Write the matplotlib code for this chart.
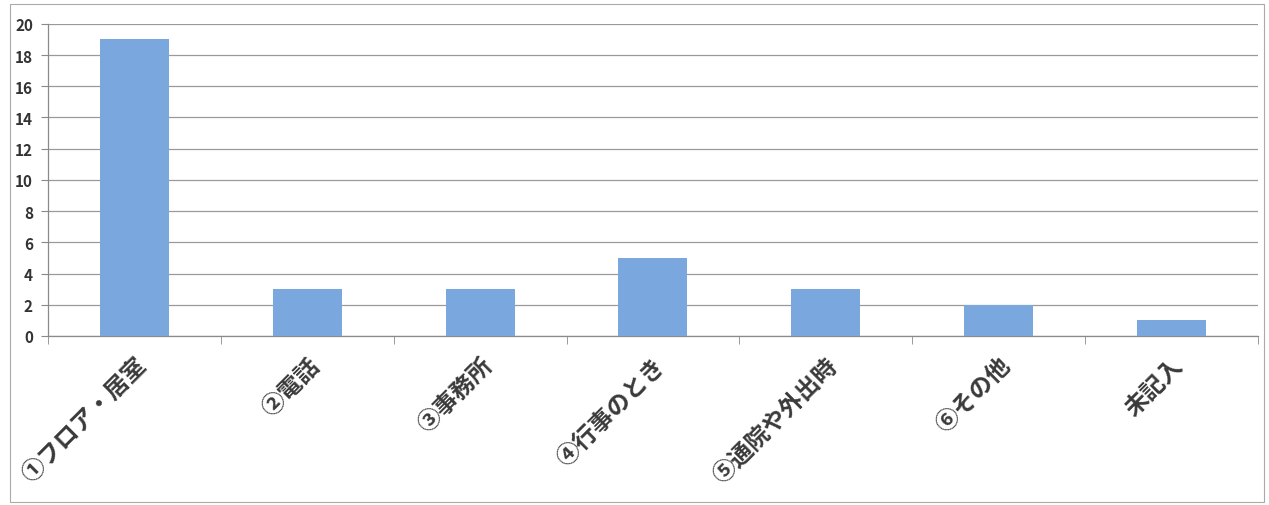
import matplotlib.pyplot as plt
from matplotlib.patches import Rectangle
import numpy as np

plt.rcParams['font.family'] = ['Noto Sans CJK JP', 'DejaVu Sans']

# data
categories = ['①フロア・居室', '②電話', '③事務所', '④行事のとき', '⑤通院や外出時', '⑥その他', '未記入']
counts = [19, 3, 3, 5, 3, 2, 1]
y_ticks = [0, 2, 4, 6, 8, 10, 12, 14, 16, 18, 20]

fig = plt.figure(figsize=(12.69, 5.06), dpi=100)
ax = fig.add_axes([0.038, 0.334, 0.953, 0.617])

x = np.arange(len(categories))
ax.bar(x, counts, width=0.4, color='#7aa7de', zorder=3)

ax.set_xlim(-0.5, len(categories) - 0.5)
ax.set_ylim(0, 20)
ax.set_yticks(y_ticks)
ax.set_yticklabels([str(v) for v in y_ticks], fontsize=11, fontweight='bold', color='#333333')
ax.yaxis.grid(True, color='#9a9a9a', linewidth=0.9, zorder=0)

# category labels, ticks on the boundaries
ax.set_xticks(x)
ax.set_xticklabels(categories, rotation=45, ha='right', va='top', rotation_mode='anchor',
                   fontsize=17, fontweight='bold', color='#3a3a3a')
ax.tick_params(axis='x', length=0, pad=12)
ax.set_xticks(np.arange(len(categories) + 1) - 0.5, minor=True)
ax.tick_params(axis='x', which='minor', length=6, color='#8a8a8a')
ax.tick_params(axis='y', length=5, color='#8a8a8a', pad=6)

for side in ['top', 'right']:
    ax.spines[side].set_visible(False)
for side in ['left', 'bottom']:
    ax.spines[side].set_color('#8a8a8a')
    ax.spines[side].set_linewidth(0.9)

# chart border
fig.patches.append(Rectangle((0.008, 0.005), 0.988, 0.985, transform=fig.transFigure,
                             fill=False, edgecolor='#aaaaaa', linewidth=0.8))

fig.savefig('out.png', dpi=100)
